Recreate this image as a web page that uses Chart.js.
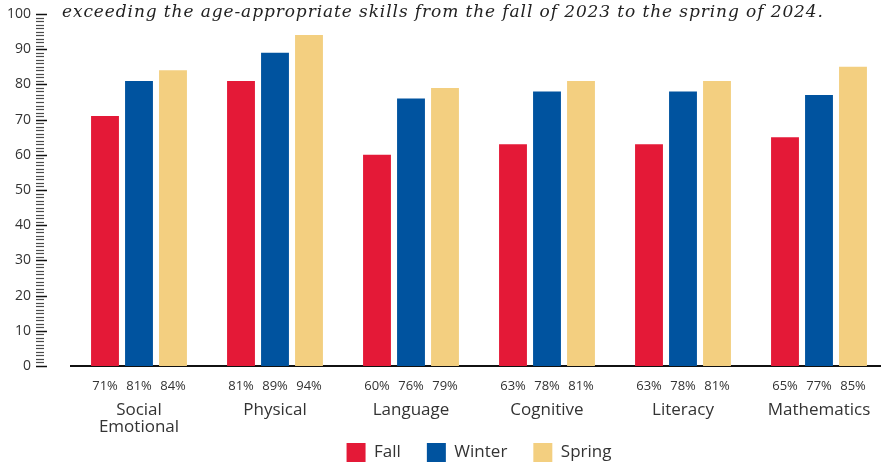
<!DOCTYPE html>
<html>
<head>
<meta charset="utf-8">
<script src="https://cdn.jsdelivr.net/npm/chart.js@4.4.1/dist/chart.umd.min.js"></script>
<style>
  html, body { margin: 0; padding: 0; background: #fff; overflow: hidden; }
  #wrap { width: 890px; height: 472px; }
</style>
</head>
<body>
<div id="wrap"><canvas id="barChart" width="890" height="472"></canvas></div>
<script>
    var categories = [['Social', 'Emotional'], 'Physical', 'Language', 'Cognitive', 'Literacy', 'Mathematics'];
    var fallValues = [71, 81, 60, 63, 63, 65];
    var winterValues = [81, 89, 76, 78, 78, 77];
    var springValues = [84, 94, 79, 81, 81, 85];
    var yTickLabels = ['0', '10', '20', '30', '40', '50', '60', '70', '80', '90', '100'];
    var titleText = 'exceeding the age-appropriate skills from the fall of 2023 to the spring of 2024.';

    var labelFont = '"Open Sans", "Noto Sans", sans-serif';

    // italic title line, cut at the top like the source
    var titlePlugin = {
      id: 'titleLine',
      afterDraw: function (chart) {
        var c = chart.ctx;
        c.save();
        c.font = 'italic 17px "DejaVu Serif", "Liberation Serif", serif';
        c.letterSpacing = '0.9px';
        c.fillStyle = '#222';
        c.fillText(titleText, 62, 13);
        c.letterSpacing = '0px';
        c.restore();
      }
    };

    // ruler-style ticks on the y axis
    var rulerPlugin = {
      id: 'ruler',
      afterDraw: function (chart) {
        var y = chart.scales.y;
        var c = chart.ctx;
        c.save();
        for (var v = 0; v <= 100; v++) {
          var py = Math.round(y.getPixelForValue(v)) + 0.5;
          var major = v % 10 === 0;
          c.beginPath();
          c.strokeStyle = major ? '#111' : '#4a4a4a';
          c.lineWidth = major ? 1.5 : 1.2;
          c.moveTo(36, py);
          c.lineTo(major ? 47 : 44, py);
          c.stroke();
        }
        c.restore();
      }
    };

    // percentages under each bar, then the category names below them
    var bottomLabels = {
      id: 'bottomLabels',
      afterDraw: function (chart) {
        var c = chart.ctx;
        var x = chart.scales.x;
        var base = chart.chartArea.bottom;
        c.save();
        c.fillStyle = '#333';
        c.textAlign = 'center';
        c.textBaseline = 'middle';
        c.font = '13px ' + labelFont;
        chart.data.datasets.forEach(function (ds, i) {
          var meta = chart.getDatasetMeta(i);
          meta.data.forEach(function (bar, j) {
            c.fillText(ds.data[j] + '%', bar.x, base + 20);
          });
        });
        c.textBaseline = 'alphabetic';
        c.font = '17px ' + labelFont;
        chart.data.labels.forEach(function (lab, i) {
          var px = x.getPixelForTick(i);
          var lines = Array.isArray(lab) ? lab : [lab];
          lines.forEach(function (line, k) {
            c.fillText(line, px, base + 49 + k * 17);
          });
        });
        c.restore();
      }
    };

    var ctx = document.getElementById('barChart').getContext('2d');
    var barChart = new Chart(ctx, {
      type: 'bar',
      data: {
        labels: categories,
        datasets: [{
          label: 'Fall',
          data: fallValues,
          backgroundColor: '#E41937'
        }, {
          label: 'Winter',
          data: winterValues,
          backgroundColor: '#00539F'
        }, {
          label: 'Spring',
          data: springValues,
          backgroundColor: '#F3CF80'
        }]
      },
      options: {
        responsive: false,
        animation: false,
        datasets: {
          bar: {
            categoryPercentage: 0.75,
            barPercentage: 0.82
          }
        },
        layout: {
          padding: { top: 14, left: 0, right: 3, bottom: 0 }
        },
        scales: {
          x: {
            afterFit: function (scale) {
              scale.height = 51;
              scale.paddingLeft = 0;
              scale.paddingRight = 0;
              scale.paddingTop = 0;
              scale.paddingBottom = 0;
            },
            grid: { display: false, drawTicks: false },
            border: { display: true, color: '#111', width: 2 },
            ticks: { display: false }
          },
          y: {
            min: 0,
            max: 100,
            afterFit: function (scale) {
              scale.width = 71;
              scale.paddingTop = 0;
              scale.paddingBottom = 0;
            },
            grid: { display: false, drawTicks: false },
            border: { display: false },
            ticks: {
              stepSize: 10,
              padding: 40,
              color: '#333',
              font: { family: labelFont, size: 14 },
              callback: function (value) { return yTickLabels[value / 10]; }
            }
          }
        },
        plugins: {
          legend: {
            position: 'bottom',
            fullSize: false,
            labels: {
              boxWidth: 19,
              boxHeight: 19,
              padding: 26,
              color: '#333',
              font: { family: labelFont, size: 17 }
            }
          },
          tooltip: { enabled: false }
        }
      },
      plugins: [titlePlugin, rulerPlugin, bottomLabels]
    });
</script>
</body>
</html>
